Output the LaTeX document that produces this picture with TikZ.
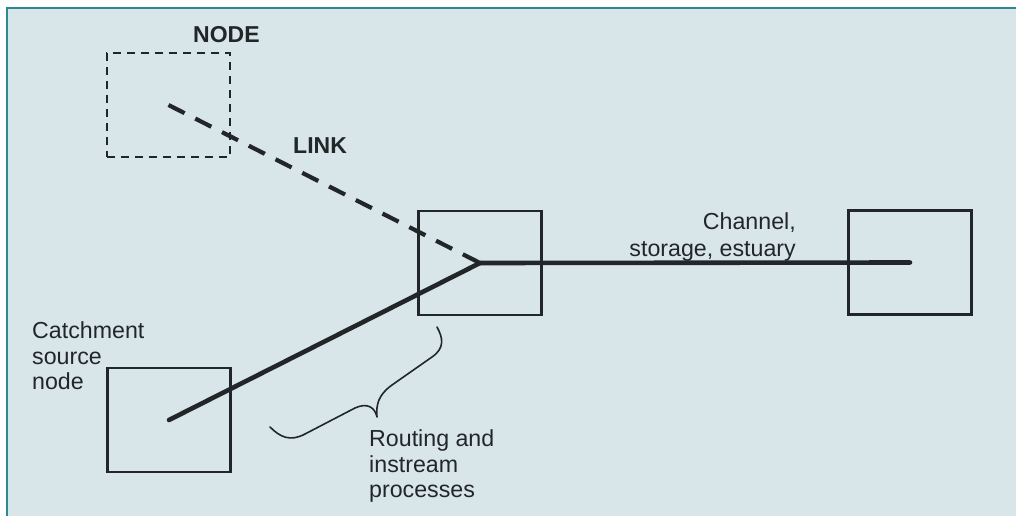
\documentclass[tikz,border=0pt]{standalone}
\usepackage{fontspec}
\setmainfont{Liberation Sans}
\definecolor{panel}{HTML}{D8E6E9}
\definecolor{rim}{HTML}{2A8A8F}
\definecolor{ink}{HTML}{222628}
\begin{document}
\begin{tikzpicture}[x=1pt,y=-1pt,
  box/.style={draw=ink,line width=2.1pt,minimum width=123pt,minimum height=104pt,inner sep=0pt},
  ghostbox/.style={box,line width=1.8pt,dash pattern=on 8pt off 6pt},
  label/.style={text=ink,font=\fontsize{23.2}{25.5}\selectfont,inner sep=0pt},
  heading/.style={text=ink,font=\bfseries\fontsize{23}{25.5}\selectfont,inner sep=0pt},
  flow/.style={draw=ink,line width=4.6pt,line cap=round},
  ghostflow/.style={draw=ink,line width=4.2pt,dash pattern=on 18pt off 12pt},
  brace/.style={draw=ink,line width=1.6pt,line cap=round,line join=round}]
  \useasboundingbox (0,0) rectangle (1016,516);
  % panel with teal rule along top and left
  \fill[white] (0,0) rectangle (1016,516);
  \fill[panel] (7,8) rectangle (1016,516);
  \draw[rim,line width=1.5pt] (7,516) -- (7,8) -- (1016,8);

  % nodes
  \node[ghostbox] (ghost) at (168.5,105) {};
  \node[box] (junction) at (480,263) {};
  \node[box] (outlet) at (910,262.5) {};
  \node[box] (source) at (169,420) {};

  % links
  \draw[ghostflow] (ghost.center) -- (junction.center);
  \draw[flow] (source.center) -- (junction.center);
  \draw[flow] (junction.center) -- (outlet.center);

  % labels
  \node[heading,anchor=base west] (nodelabel) at (193,43) {NODE};
  \node[heading,anchor=base west] (linklabel) at (293,153) {LINK};
  \node[label,anchor=north east,align=right] (channel) at (796,212)
    {Channel,\\[1.5pt]storage, estuary};
  \node[label,anchor=north west,align=left] (catchment) at (32,321.5)
    {Catchment\\source\\node};
  \node[label,anchor=north west,align=left] (routing) at (369,429.5)
    {Routing and\\instream\\processes};

  % brace spanning the routing reach
  \coordinate (braceL) at (270,427);
  \coordinate (braceR) at (437,327);
  \draw[brace] (braceL) .. controls (280,437) and (290,442) .. (305,434)
    -- (355,408) .. controls (368,402) and (375,408) .. (377,417)
    .. controls (376,405) and (378,395) .. (392,385)
    -- (432,357) .. controls (445,348) and (443,338) .. (braceR);
\end{tikzpicture}
\end{document}
